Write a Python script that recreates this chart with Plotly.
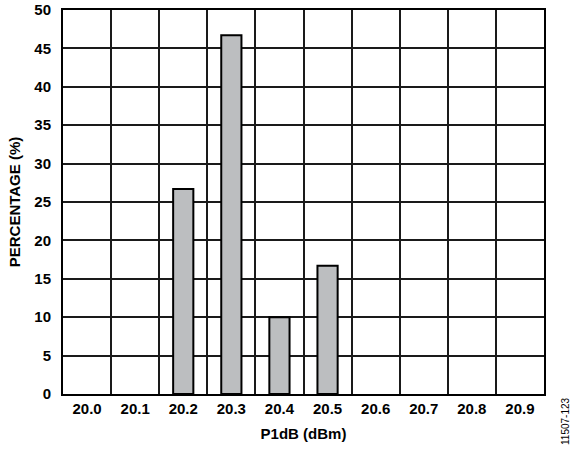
import plotly.graph_objects as go

categories = ["20.0", "20.1", "20.2", "20.3", "20.4", "20.5", "20.6", "20.7", "20.8", "20.9"]
percentages = [0, 0, 26.7, 46.7, 10, 16.7, 0, 0, 0, 0]
y_ticks = [0, 5, 10, 15, 20, 25, 30, 35, 40, 45, 50]

xpos = list(range(len(categories)))
bounds = [i + 0.5 for i in range(len(categories) - 1)]

L, R, T, B = 63, 30, 10, 58
W, H = 574, 452
pw, ph = W - L - R, H - T - B

fig = go.Figure()
fig.add_trace(go.Bar(
    x=[x for x, v in zip(xpos, percentages) if v > 0],
    y=[v for v in percentages if v > 0],
    width=0.42,
    marker=dict(color="#bcbec0", line=dict(color="#000000", width=2)),
))

font = dict(family="Liberation Sans, Arial, sans-serif", size=15, color="#000000")

fig.update_layout(
    width=W, height=H,
    margin=dict(l=L, r=R, t=T, b=B),
    paper_bgcolor="white", plot_bgcolor="white",
    showlegend=False,
    font=font,
    xaxis=dict(
        range=[-0.5, 9.5], automargin=False,
        tickmode="array", tickvals=xpos, ticktext=["<b>%s</b>" % c for c in categories],
        showgrid=False, zeroline=False,
        showline=True, linecolor="#000000", linewidth=2, mirror=True,
        ticks="", ticklen=0,
        minor=dict(tickmode="array", tickvals=bounds, showgrid=True,
                   gridcolor="#1a1a1a", gridwidth=1.5, ticks=""),
        title=dict(text="<b>P1dB (dBm)</b>", font=dict(size=15), standoff=12),
        tickfont=dict(size=15),
    ),
    yaxis=dict(
        range=[0, 50], automargin=False,
        tickmode="array", tickvals=y_ticks, ticktext=["<b>%d</b>" % t for t in y_ticks],
        showgrid=True, gridcolor="#1a1a1a", gridwidth=1.5,
        zeroline=False,
        showline=True, linecolor="#000000", linewidth=2, mirror=True,
        ticks="outside", ticklen=7, tickcolor="rgba(0,0,0,0)",
        title=dict(text="<b>PERCENTAGE (%)</b>", font=dict(size=15), standoff=10),
        tickfont=dict(size=15),
    ),
    annotations=[dict(
        text="11507-123", textangle=-90,
        x=(565 - L) / pw, y=(ph + T - 447) / ph,
        xref="paper", yref="paper", showarrow=False,
        xanchor="center", yanchor="bottom",
        font=dict(size=10, color="#000000"),
    )],
)

fig.write_html("out.html", config={"displayModeBar": False},
               post_script="document.body.style.margin='0px';")
